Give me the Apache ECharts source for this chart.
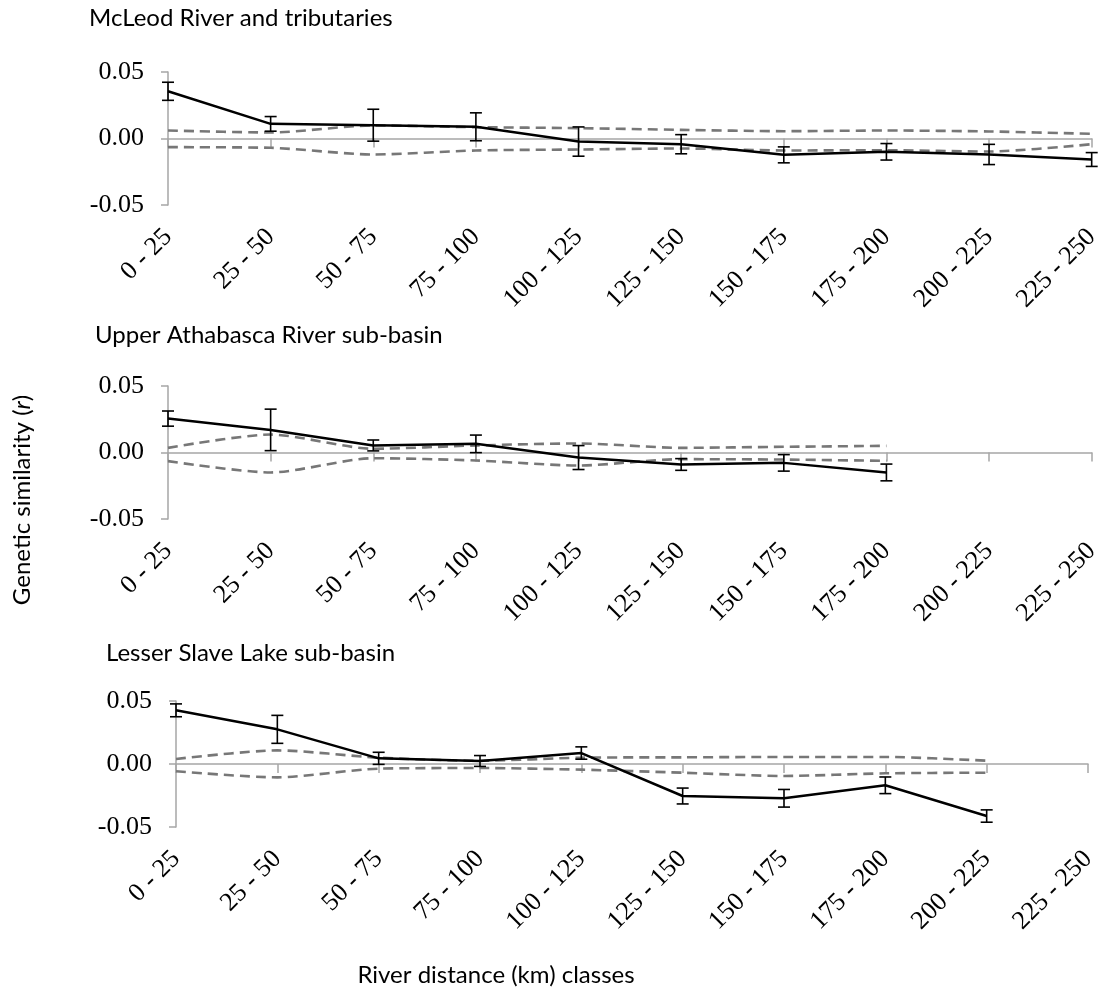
<!DOCTYPE html>
<html>
<head>
<meta charset="utf-8">
<script src="https://cdn.jsdelivr.net/npm/echarts@6/dist/echarts.min.js"></script>
<style>html,body{margin:0;padding:0;background:#fff}#c{width:1103px;height:993px}</style>
</head>
<body>
<div id="c"></div>
<script>
const categories = ['0 - 25','25 - 50','50 - 75','75 - 100','100 - 125','125 - 150','150 - 175','175 - 200','200 - 225','225 - 250'];
const yTicks = [-0.05, 0, 0.05];
const panelTitles = ['McLeod River and tributaries','Upper Athabasca River sub-basin','Lesser Slave Lake sub-basin'];

// McLeod River and tributaries
const mcleodR    = [0.0355, 0.011, 0.010, 0.0088, -0.0023, -0.0043, -0.0123, -0.0100, -0.0120, -0.0158];
const mcleodErr  = [0.0068, 0.0055, 0.0120, 0.0105, 0.0110, 0.0072, 0.0060, 0.0062, 0.0076, 0.0052];
const mcleodUp   = [0.006, 0.0045, 0.0098, 0.0085, 0.0078, 0.0065, 0.0055, 0.006, 0.0053, 0.0035];
const mcleodLow  = [-0.0065, -0.007, -0.012, -0.009, -0.0083, -0.0075, -0.009, -0.0088, -0.0098, -0.0043];

// Upper Athabasca River sub-basin
const athaR      = [0.0255, 0.017, 0.0053, 0.0065, -0.0038, -0.009, -0.0078, -0.015];
const athaErr    = [0.0057, 0.0156, 0.0041, 0.0066, 0.0090, 0.0044, 0.0062, 0.0063];
const athaUp     = [0.0035, 0.0135, 0.0028, 0.0053, 0.0068, 0.0035, 0.0043, 0.005];
const athaLow    = [-0.0065, -0.015, -0.0043, -0.006, -0.0098, -0.005, -0.0053, -0.0063];

// Lesser Slave Lake sub-basin
const lesserR    = [0.0426, 0.0275, 0.0045, 0.0024, 0.0087, -0.0254, -0.0272, -0.0169, -0.0413];
const lesserErr  = [0.0051, 0.0111, 0.0048, 0.0043, 0.0049, 0.0063, 0.0070, 0.0066, 0.0049];
const lesserUp   = [0.004, 0.0108, 0.005, 0.0026, 0.005, 0.0053, 0.0056, 0.0056, 0.0026];
const lesserLow  = [-0.0058, -0.0106, -0.0037, -0.0032, -0.0045, -0.0069, -0.0095, -0.0074, -0.0069];

const panels = [
  {r: mcleodR, err: mcleodErr, up: mcleodUp, low: mcleodLow},
  {r: athaR, err: athaErr, up: athaUp, low: athaLow},
  {r: lesserR, err: lesserErr, up: lesserUp, low: lesserLow}
];

const grids = [
  {left: 168, top: 72, width: 927, height: 133},
  {left: 168, top: 386, width: 925, height: 133},
  {left: 176, top: 701, width: 912, height: 126}
];
const titlePos = [{left: 84, top: 1}, {left: 90, top: 318}, {left: 101, top: 636}];

const serif = 'Liberation Serif';
const sans = 'Lato';
const axisGray = '#a6a6a6';
const dashGray = '#777777';

const xAxes = [], yAxes = [], series = [], titles = [];
panels.forEach((p, i) => {
  titles.push({
    text: panelTitles[i], left: titlePos[i].left, top: titlePos[i].top,
    textStyle: {fontFamily: sans, fontSize: 24, fontWeight: 'normal', color: '#000'}
  });
  // label axis (bottom)
  xAxes.push({
    type: 'category', gridIndex: i, data: categories, boundaryGap: false, position: 'bottom',
    axisLine: {show: false, onZero: false}, axisTick: {show: false},
    axisLabel: {rotate: 45, margin: 28, interval: 0, fontFamily: serif, fontSize: 26, color: '#000'}
  });
  // zero line axis
  xAxes.push({
    type: 'category', gridIndex: i, data: categories, boundaryGap: false, position: 'top',
    axisLine: {show: true, onZero: true, lineStyle: {color: axisGray, width: 1.5}},
    axisTick: {show: true, inside: true, length: 9, interval: 0, lineStyle: {color: axisGray, width: 1.5}},
    axisLabel: {show: false}
  });
  yAxes.push({
    type: 'value', gridIndex: i, min: -0.05, max: 0.05, interval: 0.05,
    axisLine: {show: true, lineStyle: {color: axisGray, width: 1.5}},
    axisTick: {show: true, length: 7, lineStyle: {color: axisGray, width: 1.5}},
    splitLine: {show: false},
    axisLabel: {margin: 24, fontFamily: serif, fontSize: 26, color: '#000',
      formatter: v => v.toFixed(2)}
  });
  const xi = i * 2;
  series.push({
    type: 'line', xAxisIndex: xi, yAxisIndex: i, data: p.up, smooth: 0.25, symbol: 'none',
    lineStyle: {color: dashGray, width: 2.6, type: [10, 6]}, z: 2
  });
  series.push({
    type: 'line', xAxisIndex: xi, yAxisIndex: i, data: p.low, smooth: 0.25, symbol: 'none',
    lineStyle: {color: dashGray, width: 2.6, type: [10, 6]}, z: 2
  });
  series.push({
    type: 'line', xAxisIndex: xi, yAxisIndex: i, data: p.r, symbol: 'none',
    lineStyle: {color: '#000', width: 2.5}, z: 3
  });
  series.push({
    type: 'custom', xAxisIndex: xi, yAxisIndex: i,
    data: p.r.map((v, k) => [k, v - p.err[k], v + p.err[k]]),
    encode: {x: 0, y: [1, 2]},
    renderItem: function (params, api) {
      const k = api.value(0);
      const lo = api.coord([k, api.value(1)]);
      const hi = api.coord([k, api.value(2)]);
      const w = 6;
      const st = {stroke: '#000', lineWidth: 1.6};
      return {type: 'group', children: [
        {type: 'line', shape: {x1: lo[0], y1: lo[1], x2: hi[0], y2: hi[1]}, style: st},
        {type: 'line', shape: {x1: lo[0] - w, y1: lo[1], x2: lo[0] + w, y2: lo[1]}, style: st},
        {type: 'line', shape: {x1: hi[0] - w, y1: hi[1], x2: hi[0] + w, y2: hi[1]}, style: st}
      ]};
    },
    z: 4
  });
});

const chart = echarts.init(document.getElementById('c'));
chart.setOption({
  animation: false,
  backgroundColor: '#fff',
  title: titles,
  grid: grids,
  xAxis: xAxes,
  yAxis: yAxes,
  series: series,
  graphic: [
    {
      type: 'text', x: 22, y: 500, rotation: Math.PI / 2,
      style: {
        text: '{n|Genetic similarity (}{i|r}{n|)}',
        textAlign: 'center', textVerticalAlign: 'middle',
        rich: {
          n: {fontFamily: sans, fontSize: 24, fill: '#000'},
          i: {fontFamily: sans, fontSize: 24, fontStyle: 'italic', fill: '#000'}
        }
      }
    },
    {
      type: 'text', x: 496, y: 975,
      style: {text: 'River distance (km) classes', textAlign: 'center', textVerticalAlign: 'middle',
        fontFamily: sans, fontSize: 24, fill: '#000'}
    }
  ]
});
</script>
</body>
</html>
